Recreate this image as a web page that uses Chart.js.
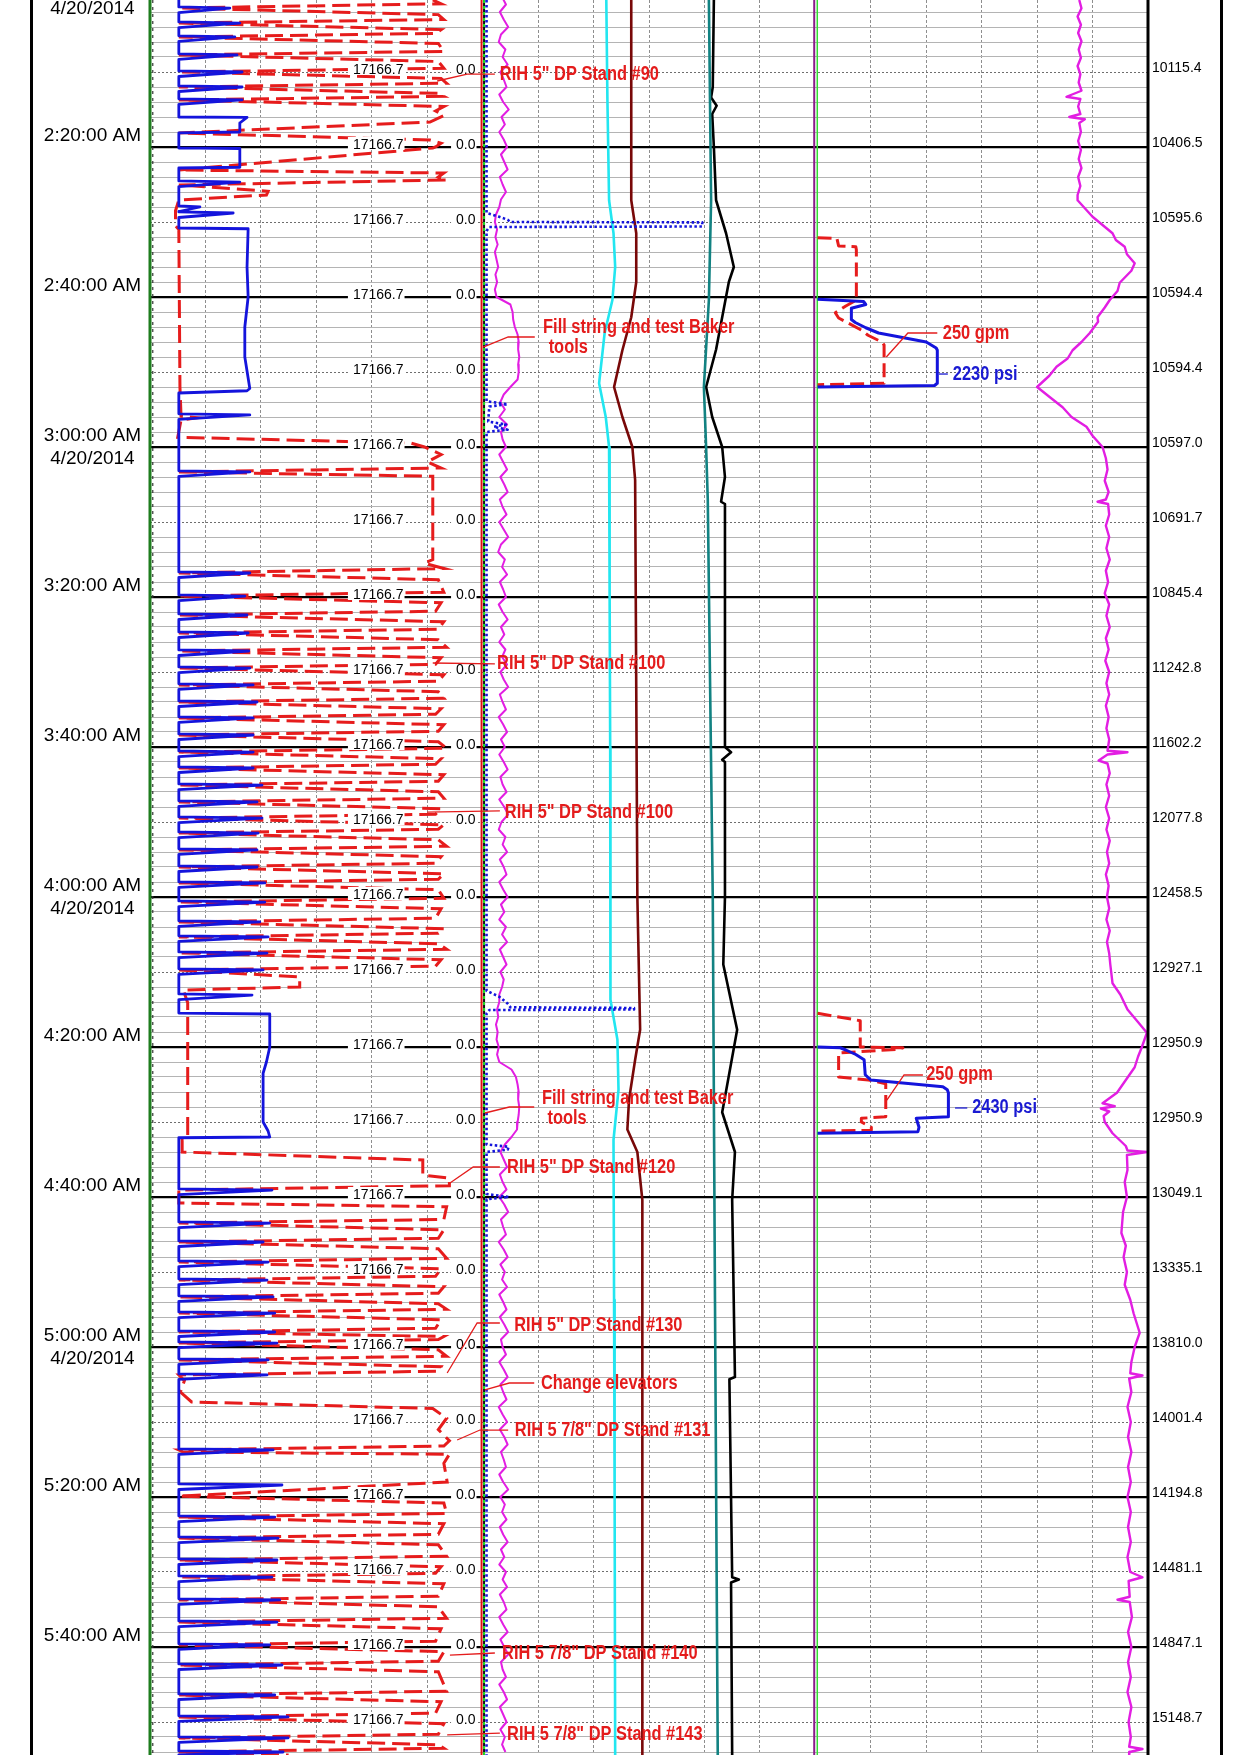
<!DOCTYPE html>
<html><head><meta charset="utf-8">
<script src="https://cdn.jsdelivr.net/npm/chart.js@4.4.1/dist/chart.umd.min.js"></script>
<style>html,body{margin:0;padding:0;background:#fff;}canvas{display:block;}</style>
</head><body>
<canvas id="c" width="1240" height="1755" style="width:1240px;height:1755px"></canvas>
<script>
// ===================== DATA (time = minutes after 2:00:00 AM) =====================
const tStart = 0.4, tEnd = 234.4;
const dateLabel = '4/20/2014';
const bitDepthText = '17166.7';
const secondText = '0.0';
// depth labels every 10 minutes (2:10, 2:20, ... 5:50)
const depthValues = ['10115.4','10406.5','10595.6','10594.4','10594.4','10597.0','10691.7','10845.4','11242.8','11602.2','12077.8','12458.5','12927.1','12950.9','12950.9','13049.1','13335.1','13810.0','14001.4','14194.8','14481.1','14847.1','15148.7'];

// ---- Track 1 : blue solid (connections / spikes) ----
const hookBase = 0.52;
const connTime = [1.47,3.47,5.33,7.73,10.0,12.0,13.73,24.67,28.0,28.8,55.73,63.33,
 76.8,79.87,82.4,84.8,87.2,89.47,91.73,94.0,96.13,98.4,100.67,102.8,105.07,107.33,109.47,111.47,113.73,116.0,118.13,120.67,123.33,125.33,127.47,129.73,133.07,
 159.07,163.47,166.0,168.67,171.07,173.33,175.47,178.0,179.47,181.73,183.73,193.73,198.4,
 202.67,205.47,208.4,210.67,213.73,216.67,219.73,222.4,226.4,229.33,232.13,234.0];
const hookPeak = [1.44,1.62,1.53,1.57,1.66,1.66,1.66,1.62,0.9,1.5,1.8,1.8,
 1.8,1.71,1.75,1.77,1.78,1.8,1.86,1.93,1.86,1.86,1.86,1.86,2.02,1.93,2.02,1.95,1.93,1.93,2.07,2.07,1.98,2.13,2.11,2.04,1.84,
 2.2,2.16,2.04,2.13,2.11,2.22,2.25,2.25,2.29,2.13,2.11,2.22,2.38,
 2.25,2.31,2.29,2.2,2.34,2.29,2.16,2.38,2.25,2.49,2.49,2.4];
const hookBlocks = [[0.4,0.52],
 [16.0,0.52],[16.05,1.75],[16.8,1.62],[18.0,1.62],[18.13,0.52],
 [20.13,0.52],[20.2,1.62],[22.7,1.62],[22.8,0.52],
 [30.8,0.52],[30.9,1.77],[36,1.75],[40,1.77],[44,1.71],[48,1.71],[52.2,1.8],[52.5,1.75],[52.8,0.52],
 [135.47,0.52],[135.6,2.16],[140,2.16],[142,2.1],[143.5,2.04],[150,2.04],[151.2,2.13],[152.0,2.16],[152.1,0.52],
 [234.4,0.52]];

// ---- Track 1 : red dashed path [time, value] ----
const blockPath = [
 [0.4,5.1],[0.9,5.25],
 [1.47,.52],[2.35,5.2],[3.0,5.3],
 [3.47,.52],[4.35,5.25],[4.85,5.15],
 [5.33,.52],[6.2,5.2],[7.25,5.3],
 [7.73,.52],[8.6,5.2],[9.5,5.3],
 [10.0,.52],[10.85,5.25],[11.5,5.35],
 [12.0,.52],[12.85,5.2],[13.25,5.3],
 [13.73,.52],[14.6,5.3],[15.2,5.15],[15.8,5.3],[16.67,5.05],[18.13,.52],
 [19.07,5.05],[19.5,5.25],[20.0,5.15],[20.13,5.1],[23.07,.52],
 [23.47,5.3],[24.0,5.2],[24.4,5.35],[25.07,.52],
 [25.9,2.13],[26.4,2.1],[27.07,.52],
 [28.5,.46],[30.5,.46],[31.0,.52],[52.0,.54],[55.9,.56],[56.1,.85],[56.4,.56],[58.7,.5],
 [59.47,4.7],[60.0,4.95],[61.0,5.25],[62.0,5.0],[62.8,5.25],[63.33,.52],
 [63.9,5.1],[75.0,5.1],[75.5,4.95],[76.2,5.3],
 [76.8,.52],[77.7,5.2],[79.37,5.3],
 [79.87,.52],[80.77,5.25],[81.9,5.15],
 [82.4,.52],[83.3,5.3],[84.3,5.2],
 [84.8,.52],[85.7,5.2],[86.7,5.35],
 [87.2,.52],[88.1,5.25],[88.97,5.15],
 [89.47,.52],[90.37,5.3],[91.23,5.2],
 [91.73,.52],[92.63,5.2],[93.5,5.3],
 [94.0,.52],[94.9,5.25],[95.63,5.15],
 [96.13,.52],[97.03,5.3],[97.9,5.2],
 [98.4,.52],[99.3,5.2],[100.17,5.35],
 [100.67,.52],[101.57,5.25],[102.3,5.15],
 [102.8,.52],[103.7,5.3],[104.57,5.2],
 [105.07,.52],[105.97,5.2],[106.83,5.3],
 [107.33,.52],[108.23,5.25],[108.97,5.15],
 [109.47,.52],[110.37,5.3],[110.97,5.2],
 [111.47,.52],[112.37,5.2],[113.23,5.35],
 [113.73,.52],[114.63,5.25],[115.5,5.15],
 [116.0,.52],[116.9,5.3],[117.63,5.2],
 [118.13,.52],[119.03,5.2],[120.17,5.3],
 [120.67,.52],[121.57,5.25],[122.83,5.15],
 [123.33,.52],[124.23,5.3],[124.83,5.2],
 [125.33,.52],[126.23,5.2],[126.97,5.35],
 [127.47,.52],[128.37,5.25],[129.23,5.15],
 [129.73,.52],[130.67,2.7],[132.0,2.7],[132.4,.6],[134.1,.68],[152.0,.68],[152.3,.58],[154.0,.58],[155.07,4.92],[157.07,4.92],[157.5,5.4],[158.5,5.4],
 [159.07,.52],[160.8,.52],[161.3,5.35],[163.0,5.3],
 [163.47,.52],[164.37,5.3],[165.5,5.2],
 [166.0,.52],[166.9,5.2],[168.17,5.35],
 [168.67,.52],[169.57,5.25],[170.57,5.15],
 [171.07,.52],[171.97,5.3],[172.83,5.2],
 [173.33,.52],[174.23,5.2],[174.97,5.35],
 [175.47,.52],[176.37,5.25],[177.5,5.15],
 [178.0,.52],[178.6,5.3],[179.0,5.2],
 [179.47,.52],[180.37,5.2],[181.23,5.35],
 [181.73,.52],[182.63,5.25],[183.23,5.2],
 [183.73,.52],[184.5,.62],[186.0,.55],[187.33,.75],[188.2,5.1],[189.5,5.35],[191.0,5.2],[192.5,5.4],[193.2,5.3],
 [193.73,.52],[194.0,.6],[194.3,5.4],[195.5,5.3],[198.0,5.36],[199.9,.52],
 [200.8,5.3],[202.2,5.35],
 [202.67,.52],[203.57,5.3],[204.97,5.2],
 [205.47,.52],[206.37,5.2],[207.9,5.35],
 [208.4,.52],[209.3,5.25],[210.17,5.15],
 [210.67,.52],[211.57,5.3],[213.23,5.2],
 [213.73,.52],[214.63,5.2],[216.17,5.35],
 [216.67,.52],[217.57,5.25],[219.23,5.15],
 [219.73,.52],[220.63,5.3],[221.9,5.2],
 [222.4,.52],[223.3,5.2],[225.9,5.35],
 [226.4,.52],[227.3,5.25],[228.83,5.15],
 [229.33,.52],[230.23,5.3],[231.63,5.2],
 [232.13,.52],[233.03,5.2],[233.5,5.3],
 [234.0,.52],[234.4,2.5]
];

// ---- Track 2 ----
const dotBlue = [[0.4,0.07],[28.8,0.07],[29.3,0.3],[29.7,0.45],[30.0,0.5],[30.05,3.96],[30.6,3.96],[30.67,0.12],[31.2,0.07],
 [53.9,0.07],[54.3,0.45],[54.6,0.12],[56.6,0.1],[57.0,0.42],[57.3,0.2],[57.7,0.45],[58.0,0.07],
 [132.5,0.07],[133.3,0.3],[134.2,0.45],[134.7,0.5],[134.8,2.73],[135.0,2.73],[135.07,0.12],[135.5,0.07],
 [153.0,0.07],[153.3,0.47],[153.7,0.45],[154.0,0.07],[159.6,0.07],[160.0,0.47],[160.3,0.07],[234.4,0.07]];
// magenta sampled each minute from 2:00
const magentaT2 = [0.35,0.42,0.31,0.38,0.46,0.33,0.29,0.41,0.36,0.45,
 0.32,0.38,0.43,0.30,0.37,0.47,0.34,0.40,0.30,0.38,
 0.44,0.33,0.39,0.45,0.31,0.36,0.42,0.33,
 0.30,0.24,0.22,0.26,0.23,0.27,0.22,0.25,0.28,0.23,0.26,0.22,0.25,
 0.50,0.54,0.55,0.58,0.63,0.65,0.64,0.66,0.64,0.65,0.63,
 0.50,0.38,0.32,0.40,0.30,0.44,0.33,
 0.36,0.42,0.30,0.37,0.44,0.32,0.39,0.45,0.31,0.36,
 0.43,0.30,0.38,0.46,0.33,0.28,0.40,0.35,0.44,0.31,
 0.37,0.42,0.29,0.36,0.45,0.33,0.39,0.30,0.41,0.35,
 0.44,0.32,0.38,0.46,0.31,0.36,0.42,0.29,0.37,0.44,
 0.33,0.40,0.30,0.38,0.45,0.32,0.36,0.43,0.30,0.39,
 0.46,0.34,0.29,0.41,0.36,0.44,0.31,0.38,0.43,0.30,
 0.37,0.45,0.33,0.39,0.30,0.42,0.35,0.44,0.31,0.37,
 0.43,0.32,0.38,0.35,0.30,
 0.30,0.26,0.28,0.24,0.27,0.25,0.29,0.26,0.30,
 0.52,0.60,0.63,0.65,0.64,0.66,0.65,0.63,0.62,
 0.52,0.40,0.32,
 0.38,0.44,0.31,0.36,0.43,0.30,0.39,0.46,0.33,0.37,
 0.42,0.29,0.38,0.45,0.32,0.40,0.35,0.44,0.30,0.37,
 0.43,0.31,0.39,0.46,0.33,0.36,0.42,0.30,0.38,0.45,
 0.32,0.37,0.43,0.29,0.36,0.44,0.31,0.39,0.45,0.33,
 0.38,0.42,0.30,0.37,0.46,0.32,0.40,0.35,0.43,0.31,
 0.37,0.45,0.33,0.39,0.30,0.42,0.36,0.44,0.31,0.38,
 0.43,0.30,0.37,0.45,0.32,0.39,0.46,0.33,0.36,0.42,
 0.30,0.38,0.44,0.31,0.37,0.43,0.32,0.40,0.35,0.41];
const cyanT2 = [[0.4,2.23],[13.7,2.25],[27.1,2.28],[31.5,2.36],[36,2.39],[40.4,2.34],[44.8,2.2],[51.5,2.1],[56,2.22],[60,2.28],[80,2.29],[100,2.3],[120,2.3],[133.7,2.31],[139,2.43],[145.7,2.45],[152.4,2.36],[173.7,2.37],[200,2.38],[234.4,2.39]];
const maroonT2 = [[0.4,2.68],[27.1,2.68],[31.5,2.77],[38,2.77],[42.7,2.68],[47.1,2.52],[52,2.37],[56,2.52],[60,2.7],[64.4,2.75],[120,2.79],[137.7,2.84],[141.7,2.75],[147,2.64],[151,2.61],[154,2.79],[160.4,2.88],[234.4,2.88]];
const tealT2 = [[0.4,4.08],[13.7,4.1],[27.1,4.12],[40.4,4.08],[52,3.99],[60,4.03],[67,4.06],[120,4.15],[173.7,4.19],[234.4,4.24]];
const blackT2 = [[0.4,4.17],[12,4.15],[13.4,4.12],[14.5,4.22],[15.6,4.14],[20,4.17],[27.1,4.21],[31.5,4.39],[36,4.53],[38,4.44],[42.7,4.32],[47,4.21],[52,4.03],[56,4.14],[60,4.32],[64,4.37],[67.3,4.3],[67.6,4.37],[100,4.37],[100.7,4.48],[101.7,4.32],[102,4.37],[120,4.37],[129,4.34],[137.7,4.59],[146.7,4.37],[148.7,4.32],[154,4.55],[160.4,4.5],[184,4.55],[184.3,4.45],[210.7,4.5],[211,4.62],[211.4,4.48],[234.4,4.5]];

// ---- Track 3 ----
const flow1 = [[32.1,0.04],[32.2,0.39],[33.2,0.42],[33.3,0.73],[33.7,0.74],[40.4,0.74],[41.2,0.55],[42.1,0.36],[42.8,0.42],[43.5,0.6],[44.5,0.85],[45.1,0.95],[46.0,1.2],[46.4,1.24],[51.5,1.24],[51.7,0.04]];
const press1 = [[40.3,0.04],[40.6,0.87],[41.0,0.91],[41.5,0.65],[43.0,0.65],[43.4,0.72],[44.1,0.91],[44.8,1.14],[45.3,1.5],[46.0,2.0],[46.8,2.18],[47.1,2.2],[51.5,2.2],[51.8,2.15],[52.0,0.04]];
const flow2 = [[135.5,0.04],[136.4,0.74],[136.5,0.81],[140.0,0.81],[140.1,1.58],[140.3,1.5],[140.8,0.42],[144.0,0.42],[144.4,0.96],[144.9,1.27],[149.3,1.27],[149.5,0.83],[150.0,0.83],[150.7,1.01],[151.1,1.01],[151.2,0.04]];
const press2 = [[140.0,0.04],[140.1,0.45],[140.4,0.55],[141.0,0.73],[141.7,0.88],[143.7,0.9],[144.4,1.0],[145.3,2.3],[145.7,2.38],[146.1,2.4],[149.3,2.4],[149.5,1.82],[150.7,1.87],[151.3,1.85],[151.5,0.04]];
const magentaT3 = [[0.4,4.76],[1.5,4.8],[2.6,4.73],[3.7,4.79],[4.8,4.74],[5.9,4.8],[7.0,4.75],[8.1,4.79],[9.2,4.73],[10.3,4.78],[11.4,4.75],[12.5,4.8],[13.3,4.53],[13.6,4.78],[14.6,4.74],[15.6,4.78],[16.0,4.58],[16.3,4.86],[16.8,4.76],[18,4.79],[19.2,4.74],[20.4,4.79],[21.6,4.75],[22.8,4.8],[24,4.74],[25.2,4.78],[26.4,4.73],[27.1,4.73],[29.3,5.0],[31.5,5.36],[32.4,5.42],[33.3,5.58],[34.3,5.62],[35.5,5.76],[36.5,5.7],[38.1,5.49],[39.2,5.45],[40.4,5.31],[41.4,5.22],[42.7,5.09],[43.3,5.1],[44.8,4.95],[46,4.8],[47.1,4.64],[48.2,4.55],[49.3,4.35],[50.5,4.22],[52.0,4.0],[53.3,4.22],[54.7,4.46],[56,4.62],[57.3,4.89],[58.5,5.0],[60,5.18],[61.5,5.24],[63,5.27],[64.5,5.22],[66,5.29],[67.0,5.24],[67.3,5.09],[67.6,5.28],[69,5.3],[70.5,5.24],[72,5.3],[73.5,5.25],[75,5.31],[76.5,5.24],[78,5.28],[79.5,5.22],[81,5.3],[82.5,5.25],[84,5.31],[85.5,5.24],[87,5.29],[88.5,5.23],[90,5.3],[91.5,5.25],[93,5.3],[94.5,5.24],[96,5.29],[97.5,5.25],[99,5.3],[100.5,5.27],[100.7,5.63],[101.0,5.27],[101.8,5.11],[102.2,5.27],[103.5,5.31],[105,5.25],[106.5,5.3],[108,5.24],[109.5,5.3],[111,5.25],[112.5,5.31],[114,5.26],[115.5,5.3],[117,5.24],[118.5,5.29],[120,5.26],[121.5,5.3],[123,5.25],[124.5,5.31],[126,5.26],[127.5,5.3],[129,5.32],[131.5,5.36],[133,5.5],[135,5.63],[136.5,5.8],[138.1,5.98],[140,5.89],[141.3,5.82],[142.7,5.76],[144.4,5.6],[146.1,5.44],[147.5,5.18],[147.9,5.4],[148.2,5.15],[148.6,5.3],[149.2,5.2],[150,5.22],[151.5,5.36],[153.2,5.6],[153.8,5.63],[154.0,5.98],[154.4,5.62],[156.4,5.63],[158,5.58],[160,5.62],[162,5.55],[164.8,5.52],[166.5,5.6],[168,5.56],[170,5.62],[171.7,5.58],[173.7,5.68],[175.5,5.74],[178.1,5.85],[180,5.76],[182,5.7],[183.5,5.68],[183.8,5.9],[184.2,5.66],[186,5.7],[188,5.63],[190,5.69],[192,5.64],[194,5.7],[196,5.64],[198,5.69],[200,5.63],[202,5.69],[204,5.64],[206,5.69],[208,5.63],[210,5.68],[210.7,5.9],[211.2,5.65],[213.3,5.67],[213.7,5.45],[214.0,5.67],[216,5.71],[218,5.64],[220,5.7],[222,5.64],[224,5.69],[226,5.63],[228,5.7],[230,5.65],[232,5.69],[233.3,5.66],[233.6,5.9],[234.0,5.67],[234.4,5.66]];

// track edge traces (constant values)
const edgeSpan = [tStart, tEnd];
const edgeZero = 0;

// annotations
const notes = [
 {text:['RIH 5" DP Stand #90'], t:10.27, gx:6.31, lead:[[5.18,11.2],[5.72,10.27],[6.22,10.27]]},
 {text:['Fill string and test Baker',' tools'], t:44.0, gx:7.09, lead:[[6.01,46.67],[6.46,45.33],[6.94,45.33]]},
 {text:['250 gpm'], t:44.8, gx:14.3, lead:[[13.28,48.0],[13.67,44.8],[14.2,44.8]]},
 {text:['2230 psi'], t:50.27, gx:14.48, lead:[[14.23,50.27],[14.39,50.27]], blue:true},
 {text:['RIH 5" DP Stand #100'], t:88.93, gx:6.26, lead:[[5.1,88.8],[6.22,88.93]]},
 {text:['RIH 5" DP Stand #100'], t:108.67, gx:6.4, lead:[[5.0,108.67],[6.31,108.53]]},
 {text:['Fill string and test Baker',' tools'], t:146.8, gx:7.07, lead:[[6.04,148.8],[6.48,148.0],[6.93,148.0]]},
 {text:['250 gpm'], t:143.73, gx:14.0, lead:[[13.29,147.07],[13.6,143.73],[13.94,143.73]]},
 {text:['2430 psi'], t:148.13, gx:14.83, lead:[[14.52,148.13],[14.74,148.13]], blue:true},
 {text:['RIH 5" DP Stand #120'], t:156.13, gx:6.44, lead:[[5.41,158.13],[5.83,156.0],[6.31,156.0]]},
 {text:['RIH 5" DP Stand #130'], t:177.07, gx:6.57, lead:[[5.36,183.47],[5.9,176.8],[6.31,176.8]]},
 {text:['Change elevators'], t:184.8, gx:7.05, lead:[[6.04,185.73],[6.48,184.8],[6.93,184.8]]},
 {text:['RIH 5 7/8" DP Stand #131'], t:191.07, gx:6.58, lead:[[5.54,192.4],[5.95,191.07],[6.46,191.07]]},
 {text:['RIH 5 7/8" DP Stand #140'], t:220.8, gx:6.35, lead:[[5.41,221.07],[6.22,220.8]]},
 {text:['RIH 5 7/8" DP Stand #143'], t:231.73, gx:6.44, lead:[[5.36,231.73],[6.31,231.47]]}
];

// ===================== BUILD =====================
const toXY = arr => arr.map(p => ({x: p[1], y: p[0]}));
const hookPts = [];
connTime.forEach((t, i) => { hookPts.push([t - 0.15, hookBase], [t, hookPeak[i]], [t + 0.6, hookBase]); });
hookBlocks.forEach(p => hookPts.push(p));
hookPts.sort((a, b) => a[0] - b[0]);
const magT2Pts = magentaT2.map((v, i) => [i, v]);
const edgePts = off => edgeSpan.map(t => [t, edgeZero + off]);

const FONT = '"Liberation Sans", Arial, Helvetica, sans-serif';
function line(data, axis, color, width, extra) {
  return Object.assign({data: toXY(data), xAxisID: axis, yAxisID: 'y', showLine: true, borderColor: color,
    backgroundColor: color, borderWidth: width, pointRadius: 0, pointHoverRadius: 0, fill: false, tension: 0,
    borderJoinStyle: 'round'}, extra || {});
}
const RED = '#e61c1c', BLUE = '#1414dc', MAG = '#e21ee2';
const datasets = [
  line(hookPts, 'xT1', BLUE, 2.8, {order: 1}),
  line(blockPath, 'xT1', RED, 3, {order: 2, borderDash: [18, 7], borderJoinStyle: 'miter'}),
  line(dotBlue, 'xT2', BLUE, 2.6, {order: 3, borderDash: [2.5, 2.5]}),
  line(magT2Pts, 'xT2', MAG, 2, {order: 4}),
  line(cyanT2, 'xT2', '#22e6f0', 2.6, {order: 5}),
  line(maroonT2, 'xT2', '#780808', 2.6, {order: 5}),
  line(tealT2, 'xT2', '#128282', 2.6, {order: 5}),
  line(blackT2, 'xT2', '#000000', 2.6, {order: 5}),
  line(press1, 'xT3', BLUE, 3, {order: 1}),
  line(press2, 'xT3', BLUE, 3, {order: 1}),
  line(flow1, 'xT3', RED, 3, {order: 2, borderDash: [14, 6]}),
  line(flow2, 'xT3', RED, 3, {order: 2, borderDash: [14, 6]}),
  line(magentaT3, 'xT3', MAG, 2.4, {order: 4}),
  // track edges
  line(edgePts(0.0), 'xT1', '#1e7d1e', 3, {order: 9, clip: false}),
  line(edgePts(0.05), 'xT1', '#333333', 1.2, {order: 8, borderDash: [3, 4]}),
  line(edgePts(-0.02), 'xT2', '#e01010', 2, {order: 9}),
  line(edgePts(0.025), 'xT2', '#111111', 2, {order: 9}),
  line(edgePts(0.025), 'xT2', '#22dd22', 2, {order: 8, borderDash: [3, 3]}),
  line(edgePts(-0.02), 'xT3', '#8a1a8a', 2, {order: 9}),
  line(edgePts(0.035), 'xT3', '#33dd33', 1.5, {order: 9})
];

function isInt(v) { return Math.abs(v - Math.round(v)) < 1e-6; }
function timeLabel(v) {
  if (!isInt(v)) return '';
  const r = Math.round(v);
  if (r % 20 !== 0) return '';
  const h = 2 + Math.floor(r / 60), m = r % 60;
  const s = h + ':' + String(m).padStart(2, '0') + ':00 AM';
  return m === 0 ? [s, dateLabel] : [s, ''];
}
function depthLabel(v) {
  if (!isInt(v)) return '';
  const r = Math.round(v);
  if (r % 10 !== 0 || r <= 0) return '';
  return depthValues[r / 10 - 1] || '';
}
function stepTicks(from, to, step) {
  const out = [];
  for (let v = from; v <= to + 1e-9; v += step) out.push({value: v});
  return out;
}

function narrowAvailable() {
  const c = document.createElement('canvas').getContext('2d');
  const s = 'RIH 5 DP Stand #100 elevators';
  c.font = 'bold 20px monospace'; const a = c.measureText(s).width;
  c.font = 'bold 20px "Liberation Sans Narrow", monospace'; const b = c.measureText(s).width;
  return Math.abs(a - b) > 1;
}
const NARROW = narrowAvailable();

const overlay = {
  id: 'overlay',
  afterDatasetsDraw(chart) {
    const ctx = chart.ctx, ys = chart.scales.y, xs = chart.scales.x;
    ctx.save();
    // repeated 10-minute labels
    ctx.font = '14px ' + FONT;
    ctx.textBaseline = 'alphabetic';
    for (let v = 10; v <= 230; v += 10) {
      const y = ys.getPixelForValue(v);
      [[3.66, bitDepthText], [5.52, secondText]].forEach(([gx, txt]) => {
        const x = xs.getPixelForValue(gx);
        const w = ctx.measureText(txt).width;
        ctx.fillStyle = '#ffffff';
        ctx.fillRect(x - 5, y - 10, w + 6, 13);
        ctx.fillStyle = '#000000';
        ctx.fillText(txt, x, y + 1.5);
      });
    }
    // annotations
    ctx.font = NARROW ? 'bold 20px "Liberation Sans Narrow", ' + FONT : 'bold 20px ' + FONT;
    const sx = NARROW ? 1 : 0.82;
    ctx.textBaseline = 'middle';
    notes.forEach(n => {
      const col = n.blue ? '#1a1ad2' : '#e41c1c';
      ctx.strokeStyle = col; ctx.lineWidth = 1.3;
      ctx.beginPath();
      n.lead.forEach((p, i) => {
        const px = xs.getPixelForValue(p[0]), py = ys.getPixelForValue(p[1]);
        if (i === 0) ctx.moveTo(px, py); else ctx.lineTo(px, py);
      });
      ctx.stroke();
      ctx.fillStyle = col;
      const x0 = xs.getPixelForValue(n.gx), y0 = ys.getPixelForValue(n.t);
      n.text.forEach((s, i) => {
        ctx.save();
        ctx.translate(x0 + (i ? 1 : 0), y0 + i * 20);
        ctx.scale(sx, 1);
        ctx.fillText(s, 0, 0);
        ctx.restore();
      });
    });
    ctx.restore();
  },
  afterDraw(chart) {
    const ctx = chart.ctx, a = chart.chartArea;
    ctx.save();
    ctx.fillStyle = '#000';
    ctx.fillRect(30, 0, 3, chart.height);
    ctx.fillRect(a.right - 1.5, 0, 3, chart.height);
    ctx.fillRect(1220, 0, 3, chart.height);
    ctx.restore();
  }
};

new Chart(document.getElementById('c'), {
  type: 'scatter',
  data: {datasets},
  options: {
    responsive: false, animation: false, devicePixelRatio: 1, events: [],
    layout: {padding: 0},
    plugins: {legend: {display: false}, tooltip: {enabled: false}},
    scales: {
      x: {type: 'linear', position: 'bottom', min: 0, max: 18,
          afterFit: s => { s.height = 0; s.paddingLeft = 0; s.paddingRight = 0; },
          afterBuildTicks: s => { s.ticks = stepTicks(0, 18, 1); },
          ticks: {display: false},
          grid: {drawTicks: false, lineWidth: 1,
                 color: c => [0, 6, 12, 18].includes(Math.round(c.tick.value)) ? 'rgba(0,0,0,0)' : '#8e8e8e'},
          border: {display: false, dash: [3, 2]}},
      xT1: {type: 'linear', display: false, min: 0, max: 18},
      xT2: {type: 'linear', display: false, min: -6, max: 12},
      xT3: {type: 'linear', display: false, min: -12, max: 6},
      y: {type: 'linear', position: 'left', reverse: true, min: tStart, max: tEnd,
          afterFit: s => { s.width = 150; s.paddingTop = 0; s.paddingBottom = 0; },
          afterBuildTicks: s => { s.ticks = stepTicks(0, 234, 2); },
          ticks: {autoSkip: false, color: '#000', crossAlign: 'center', padding: 9,
                  font: {family: FONT, size: 19, lineHeight: 1.2}, callback: timeLabel},
          grid: {drawTicks: false,
                 color: c => { const v = c.tick.value; if (!isInt(v)) return 'rgba(0,0,0,0)'; const r = Math.round(v);
                               if (r % 2) return 'rgba(0,0,0,0)'; if (r % 20 === 0) return '#000'; if (r % 10 === 0) return 'rgba(0,0,0,0)'; return '#b4b4b4'; },
                 lineWidth: c => (isInt(c.tick.value) && Math.round(c.tick.value) % 20 === 0) ? 2.2 : 1},
          border: {display: false}},
      yR: {type: 'linear', position: 'right', reverse: true, min: tStart, max: tEnd,
           afterFit: s => { s.width = 92; s.paddingTop = 0; s.paddingBottom = 0; },
           afterBuildTicks: s => { s.ticks = stepTicks(10, 230, 10); },
           ticks: {autoSkip: false, color: '#000', padding: 4, labelOffset: -4,
                   font: {family: FONT, size: 14}, callback: depthLabel},
           grid: {drawTicks: false, lineWidth: 1,
                  color: c => { const v = c.tick.value; if (!isInt(v)) return 'rgba(0,0,0,0)'; const r = Math.round(v);
                                return (r % 10 === 0 && r % 20 !== 0) ? '#6e6e6e' : 'rgba(0,0,0,0)'; }},
           border: {display: false, dash: [2, 2]}}
    }
  },
  plugins: [overlay]
});
</script>
</body></html>
